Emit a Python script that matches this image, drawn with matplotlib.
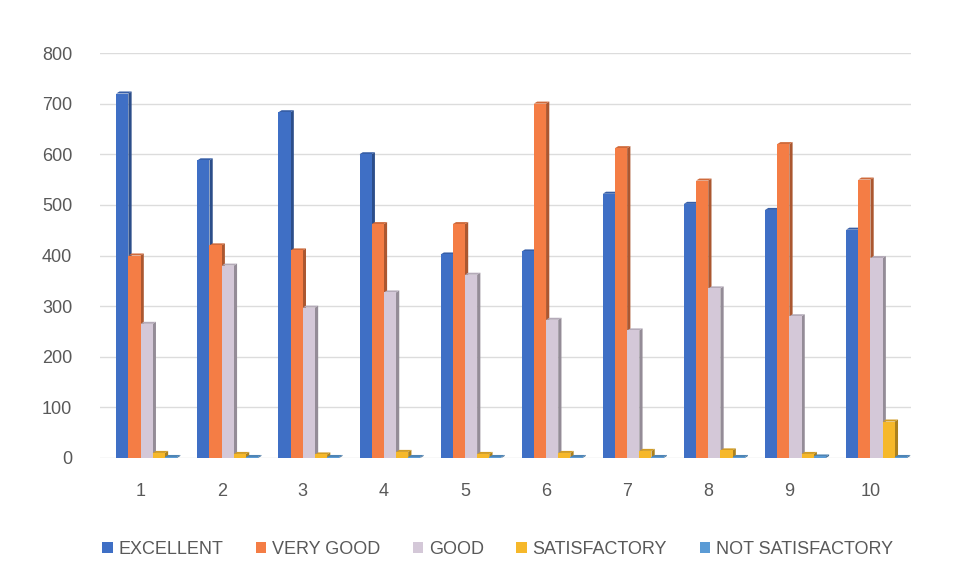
import matplotlib.pyplot as plt
from matplotlib.patches import Polygon
from matplotlib.colors import to_rgb
import numpy as np

plt.rcParams['font.family'] = ['Liberation Sans Narrow', 'Liberation Sans', 'DejaVu Sans']

groups = ["1", "2", "3", "4", "5", "6", "7", "8", "9", "10"]
series = ["EXCELLENT", "VERY GOOD", "GOOD", "SATISFACTORY", "NOT SATISFACTORY"]
excellent = [720, 588, 683, 600, 402, 408, 522, 502, 490, 451]
very_good = [400, 420, 410, 462, 462, 700, 612, 548, 620, 550]
good = [265, 380, 297, 327, 362, 273, 252, 335, 280, 395]
satisfactory = [10, 8, 7, 12, 8, 10, 14, 15, 8, 72]
not_satisfactory = [2, 2, 2, 2, 2, 2, 2, 2, 3, 2]
colors = ["#3F6FC5", "#F47D45", "#D4C8D8", "#F6B82A", "#5B9BD5"]

data = [excellent, very_good, good, satisfactory, not_satisfactory]

fig = plt.figure(figsize=(9.62, 5.83), dpi=100)
ax = fig.add_axes([100 / 962, 125 / 583, 811 / 962, 405 / 583])

x = np.arange(len(groups))
w = 0.15
step = 0.15
dx = 0.04
dy = 4

def darker(c, f):
    r, g, b = to_rgb(c)
    return (r * f, g * f, b * f)

for i, (vals, col) in enumerate(zip(data, colors)):
    pos = x + (i - 1.5) * step
    for px, v in zip(pos, vals):
        right = px + w / 2
        side = Polygon([(right, 0), (right + dx, dy), (right + dx, v + dy), (right, v)],
                       closed=True, facecolor=darker(col, 0.7), edgecolor="none", zorder=3 + i)
        top = Polygon([(px - w / 2, v), (px - w / 2 + dx, v + dy), (right + dx, v + dy), (right, v)],
                      closed=True, facecolor=darker(col, 0.85), edgecolor="none", zorder=3 + i)
        ax.add_patch(side)
        ax.add_patch(top)
    ax.bar(pos, vals, width=w, color=col, label=series[i], zorder=3 + i)

ax.set_xlim(-0.5, len(groups) - 0.5)
ax.set_ylim(0, 800)
ax.set_yticks(np.arange(0, 801, 100))
ax.set_xticks(x)
ax.set_xticklabels(groups)
ax.tick_params(axis="both", length=0, labelsize=13, colors="#595959")
ax.tick_params(axis="y", pad=20)
ax.tick_params(axis="x", pad=18)
ax.grid(axis="y", color="#DCDCDC", linewidth=1, zorder=0)
for s in ax.spines.values():
    s.set_visible(False)

ax.legend(loc="upper center", bbox_to_anchor=(0.49, -0.165), ncol=5, frameon=False,
          fontsize=13, handlelength=0.6, handleheight=0.6, handletextpad=0.3,
          columnspacing=1.8, labelcolor="#595959")

fig.savefig("out.png", dpi=100)
